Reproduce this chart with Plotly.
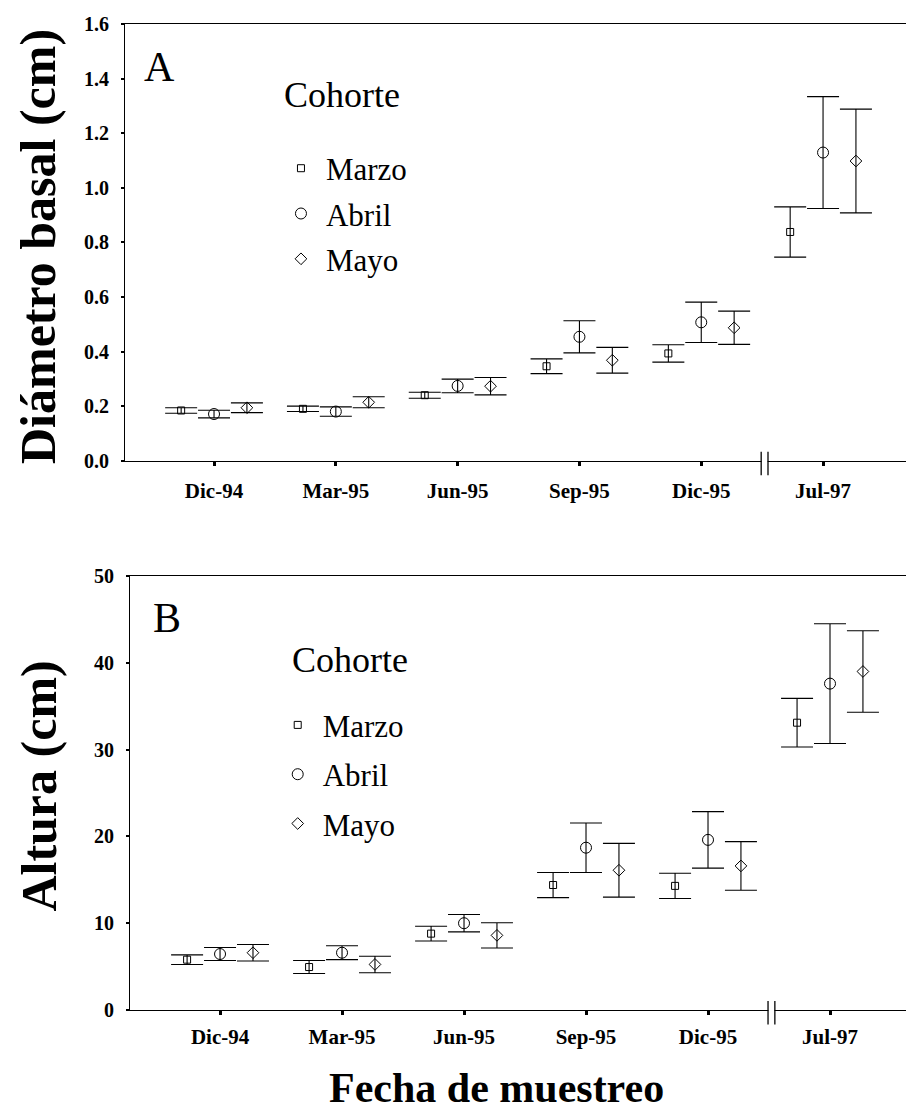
import plotly.graph_objects as go

# ---------------- data ----------------
fechas = ["Dic-94", "Mar-95", "Jun-95", "Sep-95", "Dic-95", "Jul-97"]
cohortes = ["Marzo", "Abril", "Mayo"]

# Panel A: diámetro basal (cm), media y error
diam_marzo = [0.184, 0.190, 0.240, 0.346, 0.393, 0.838]
diam_marzo_err = [0.010, 0.010, 0.011, 0.027, 0.032, 0.092]
diam_abril = [0.171, 0.180, 0.274, 0.454, 0.507, 1.129]
diam_abril_err = [0.014, 0.017, 0.025, 0.059, 0.074, 0.205]
diam_mayo = [0.194, 0.214, 0.273, 0.368, 0.487, 1.098]
diam_mayo_err = [0.018, 0.020, 0.032, 0.047, 0.061, 0.190]

# Panel B: altura (cm), media y error
alt_marzo = [5.8, 4.95, 8.8, 14.4, 14.3, 33.1]
alt_marzo_err = [0.55, 0.75, 0.85, 1.45, 1.45, 2.8]
alt_abril = [6.45, 6.6, 10.0, 18.7, 19.6, 37.6]
alt_abril_err = [0.75, 0.8, 1.0, 2.85, 3.25, 6.9]
alt_mayo = [6.6, 5.25, 8.6, 16.1, 16.6, 39.0]
alt_mayo_err = [0.95, 0.95, 1.45, 3.1, 2.8, 4.7]

# ---------------- styling ----------------
FONT = "Liberation Serif"
symbols = {"Marzo": "square-open", "Abril": "circle-open", "Mayo": "diamond-open"}
sizes = {"Marzo": 7, "Abril": 11, "Mayo": 9}
offsets = {"Marzo": -0.27, "Abril": 0.0, "Mayo": 0.27}
pos = list(range(1, len(fechas) + 1))

fig = go.Figure()

panelA = {"Marzo": (diam_marzo, diam_marzo_err),
          "Abril": (diam_abril, diam_abril_err),
          "Mayo": (diam_mayo, diam_mayo_err)}
panelB = {"Marzo": (alt_marzo, alt_marzo_err),
          "Abril": (alt_abril, alt_abril_err),
          "Mayo": (alt_mayo, alt_mayo_err)}

for panel, xa, ya, leg in [(panelA, "x", "y", "legend"), (panelB, "x2", "y2", "legend2")]:
    for c in cohortes:
        vals, errs = panel[c]
        fig.add_trace(go.Scatter(
            x=[p + offsets[c] for p in pos], y=vals,
            mode="markers", name=c, legend=leg, legendgroup=leg + c,
            xaxis=xa, yaxis=ya,
            marker=dict(symbol=symbols[c], size=sizes[c], color="black",
                        line=dict(color="black", width=1)),
            error_y=dict(type="data", array=errs, visible=True,
                         color="black", thickness=1.1, width=16),
        ))

axis_common = dict(showline=True, linecolor="black", linewidth=1.2,
                   showgrid=False, zeroline=False, ticks="outside",
                   tickcolor="black", automargin=False)

fig.update_layout(
    width=906, height=1119,
    margin=dict(l=0, r=0, t=0, b=0),
    paper_bgcolor="white", plot_bgcolor="white",
    font=dict(family=FONT, color="black"),
    xaxis=dict(domain=[0.138, 1.0], range=[0.2693, 6.681], anchor="y",
               tickvals=pos, ticktext=fechas, mirror=True,
               ticklen=4, tickwidth=3, ticklabelstandoff=7,
               tickfont=dict(size=21, family=FONT, weight="bold"), **axis_common),
    yaxis=dict(domain=[0.5883, 0.97855], range=[0, 1.6], anchor="x",
               tickvals=[0, 0.2, 0.4, 0.6, 0.8, 1.0, 1.2, 1.4, 1.6],
               tickformat=".1f", ticklen=3, tickwidth=2, ticklabelstandoff=8,
               tickfont=dict(size=20, family=FONT, weight="bold"), **axis_common),
    xaxis2=dict(domain=[0.1435, 1.0], range=[0.262, 6.623], anchor="y2",
                tickvals=pos, ticktext=fechas, mirror=True,
                ticklen=4, tickwidth=3, ticklabelstandoff=4,
                tickfont=dict(size=21, family=FONT, weight="bold"), **axis_common),
    yaxis2=dict(domain=[0.0974, 0.48525], range=[0, 50], anchor="x2",
                tickvals=[0, 10, 20, 30, 40, 50], ticklen=3, tickwidth=2,
                ticklabelstandoff=8,
                tickfont=dict(size=20, family=FONT, weight="bold"), **axis_common),
    legend=dict(x=0.3046, y=0.8735, xanchor="left", yanchor="top",
                bgcolor="rgba(0,0,0,0)", font=dict(size=31, family=FONT),
                tracegroupgap=2, itemwidth=40),
    legend2=dict(x=0.3010, y=0.376, xanchor="left", yanchor="top",
                 bgcolor="rgba(0,0,0,0)", font=dict(size=31, family=FONT),
                 tracegroupgap=6, itemwidth=40),
)

annots = [
    dict(text="A", x=0.1766, y=0.9401, size=42, angle=0),
    dict(text="B", x=0.1843, y=0.4477, size=42, angle=0),
    dict(text="Cohorte", x=0.377, y=0.9151, size=36, angle=0),
    dict(text="Cohorte", x=0.386, y=0.4102, size=36, angle=0),
    dict(text="<b>Diámetro basal (cm)</b>", x=0.042, y=0.7793, size=50, angle=-90),
    dict(text="<b>Altura (cm)</b>", x=0.042, y=0.2971, size=50, angle=-90),
    dict(text="<b>Fecha de muestreo</b>", x=0.548, y=0.0277, size=42, angle=0),
]
for a in annots:
    fig.add_annotation(xref="paper", yref="paper", showarrow=False,
                       xanchor="center", yanchor="middle",
                       text=a["text"], x=a["x"], y=a["y"], textangle=a["angle"],
                       font=dict(family=FONT, color="black", size=a["size"]))

# axis break marks (between Dic-95 and Jul-97)
BREAK_X = 5.52
for xa, y0 in [("x", 0.5883), ("x2", 0.0974)]:
    fig.add_shape(type="rect", xref=xa, yref="paper", x0=BREAK_X - 0.025,
                  x1=BREAK_X + 0.025, y0=y0 - 0.003, y1=y0 + 0.003,
                  fillcolor="white", line=dict(width=0), layer="above")
    for dx in (-0.028, 0.028):
        fig.add_shape(type="line", xref=xa, yref="paper",
                      x0=BREAK_X + dx, x1=BREAK_X + dx,
                      y0=y0 - 0.013, y1=y0 + 0.008,
                      line=dict(color="black", width=1.3), layer="above")

fig.write_html("out.html")
